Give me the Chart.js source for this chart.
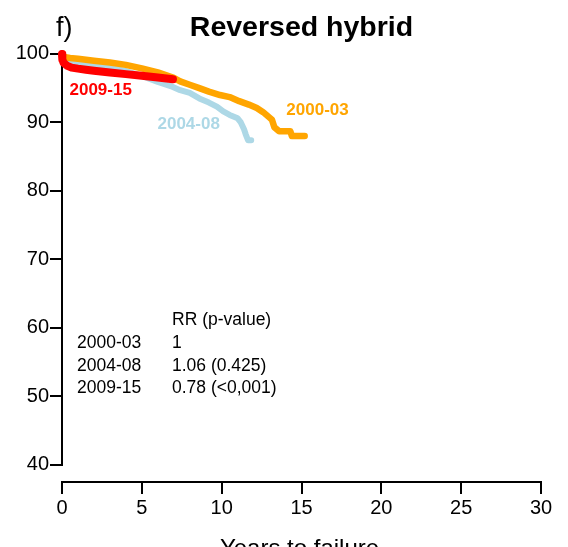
<!DOCTYPE html>
<html><head><meta charset="utf-8">
<script src="https://cdn.jsdelivr.net/npm/chart.js@4/dist/chart.umd.min.js"></script>
<style>html,body{margin:0;padding:0;background:#fff}#wrap{width:568px;height:547px;position:relative}</style>
</head><body><div id="wrap"><canvas id="c" width="568" height="547"></canvas></div>
<script>
// ---- data ----
const xTicks = [0, 5, 10, 15, 20, 25, 30];
const yTicks = [40, 50, 60, 70, 80, 90, 100];
const seriesNames = ['2000-03', '2004-08', '2009-15'];

// 2000-03 (orange)
const t2000 = [0, 0.02, 0.5, 1, 2, 3, 4, 5, 6, 7, 7.4, 8, 8.6, 9.2, 9.9, 10.5, 11.1, 11.7, 12.2, 12.6, 13, 13.15, 13.3, 13.6, 14.3, 14.4, 15.2];
const s2000 = [100, 99.6, 99.4, 99.3, 99.0, 98.75, 98.4, 97.9, 97.3, 96.5, 96.0, 95.5, 95.0, 94.5, 94.0, 93.7, 93.1, 92.6, 92.1, 91.5, 90.7, 90.4, 89.3, 88.7, 88.7, 88.0, 88.0];

// 2004-08 (light blue)
const t2004 = [0, 0.05, 1, 2, 3, 4, 5, 6, 6.8, 7.4, 8, 8.6, 9.2, 9.7, 10.1, 10.5, 11, 11.2, 11.4, 11.5, 11.65, 11.85];
const s2004 = [100, 99.0, 98.55, 98.25, 97.95, 97.5, 96.8, 95.9, 95.3, 94.7, 94.3, 93.5, 92.9, 92.3, 91.6, 91.1, 90.6, 90.0, 89.0, 88.3, 87.4, 87.4];

// 2009-15 (red)
const t2009 = [0, 0.02, 0.1, 0.3, 0.6, 1, 1.5, 2, 3, 4, 5, 6, 6.95];
const s2009 = [100, 99.2, 98.7, 98.3, 98.0, 97.85, 97.7, 97.55, 97.3, 97.05, 96.8, 96.55, 96.3];

const rrHeader = 'RR (p-value)';
const rrValues = ['1', '1.06 (0.425)', '0.78 (<0,001)'];

const titleText = 'Reversed hybrid';
const panelTag = 'f)';
const xTitle = 'Years to failure';

// ---- styles / layout (not data) ----
const colors = { '2000-03': '#FFA500', '2004-08': '#ADD8E6', '2009-15': '#FF0000' };
const FONT = "'Liberation Sans', Arial, Helvetica, sans-serif";
// label anchor positions in data units
const seriesLabelPos = {
  '2009-15': [0.47, 94.0],
  '2004-08': [5.98, 89.0],
  '2000-03': [14.05, 91.1]
};
const rrCol1 = 0.94, rrCol2 = 6.89;
const rrRows = [60.43, 57.03, 53.76, 50.55];

function pts(t, s) { return t.map((x, i) => ({ x: x, y: s[i] })); }

function ds(name, t, s, w) {
  return {
    label: name, data: pts(t, s), borderColor: colors[name], backgroundColor: colors[name],
    borderWidth: w, pointRadius: 0, fill: false, stepped: false, tension: 0,
    borderCapStyle: 'round', borderJoinStyle: 'round', clip: false
  };
}

const axisLines = {
  id: 'axisLines',
  beforeDatasetsDraw(chart) {
    const ctx = chart.ctx, y = chart.scales.y, ca = chart.chartArea;
    ctx.save();
    ctx.strokeStyle = '#000'; ctx.lineWidth = 2; ctx.lineCap = 'square';
    ctx.beginPath();
    ctx.moveTo(ca.left, y.getPixelForValue(yTicks[0]));
    ctx.lineTo(ca.left, y.getPixelForValue(yTicks[yTicks.length - 1]));
    ctx.stroke();
    ctx.restore();
  }
};

const texts = {
  id: 'texts',
  afterDraw(chart) {
    const ctx = chart.ctx, xs = chart.scales.x, ys = chart.scales.y, ca = chart.chartArea;
    const cx = (ca.left + ca.right) / 2;
    ctx.save();
    ctx.textBaseline = 'alphabetic';
    // title
    ctx.fillStyle = '#000';
    ctx.font = 'bold 28.5px ' + FONT; ctx.textAlign = 'center';
    ctx.fillText(titleText, cx, 36);
    ctx.font = '27px ' + FONT; ctx.textAlign = 'left';
    ctx.fillText(panelTag, 56, 36);
    // series labels
    ctx.font = 'bold 17px ' + FONT; ctx.textAlign = 'left';
    seriesNames.forEach(n => {
      const p = seriesLabelPos[n];
      ctx.fillStyle = colors[n];
      ctx.fillText(n, xs.getPixelForValue(p[0]), ys.getPixelForValue(p[1]));
    });
    // RR annotation
    ctx.fillStyle = '#000'; ctx.font = '17.5px ' + FONT;
    ctx.fillText(rrHeader, xs.getPixelForValue(rrCol2), ys.getPixelForValue(rrRows[0]));
    seriesNames.forEach((n, i) => {
      ctx.fillText(n, xs.getPixelForValue(rrCol1), ys.getPixelForValue(rrRows[i + 1]));
      ctx.fillText(rrValues[i], xs.getPixelForValue(rrCol2), ys.getPixelForValue(rrRows[i + 1]));
    });
    // x title
    ctx.font = '24px ' + FONT; ctx.textAlign = 'center';
    ctx.fillText(xTitle, cx - 2, 556);
    ctx.restore();
  }
};

Chart.defaults.font.family = FONT;
Chart.defaults.color = '#000';

new Chart(document.getElementById('c'), {
  type: 'line',
  data: {
    datasets: [
      ds('2009-15', t2009, s2009, 8),
      ds('2000-03', t2000, s2000, 6.5),
      ds('2004-08', t2004, s2004, 6)
    ]
  },
  options: {
    responsive: false, animation: false, devicePixelRatio: 1,
    layout: { padding: { top: 50.5, right: 27, left: 0, bottom: 0 } },
    plugins: { legend: { display: false }, tooltip: { enabled: false }, title: { display: false } },
    scales: {
      x: {
        type: 'linear', min: 0, max: 30,
        afterBuildTicks: s => { s.ticks = xTicks.map(v => ({ value: v })); },
        afterFit: s => { s.height = 65; },
        ticks: { font: { size: 20 }, color: '#000', padding: 2, maxRotation: 0, autoSkip: false },
        grid: { drawOnChartArea: false, drawTicks: true, tickLength: 12, color: '#000', lineWidth: 2 },
        border: { display: true, color: '#000', width: 2 }
      },
      y: {
        type: 'linear', min: 37.5, max: 100.5,
        afterBuildTicks: s => { s.ticks = yTicks.map(v => ({ value: v })); },
        afterFit: s => { s.width = 62; },
        ticks: { font: { size: 20 }, color: '#000', padding: 1, autoSkip: false },
        grid: { drawOnChartArea: false, drawTicks: true, tickLength: 12, color: '#000', lineWidth: 2 },
        border: { display: false }
      }
    }
  },
  plugins: [axisLines, texts]
});
</script>
</body></html>
